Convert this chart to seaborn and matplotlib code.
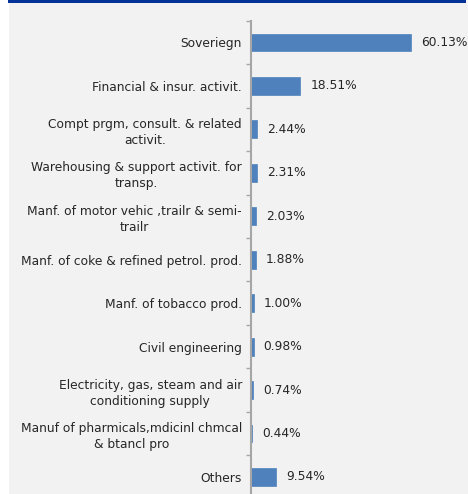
import numpy as np
import pandas as pd
import matplotlib
matplotlib.use("Agg")
import matplotlib.pyplot as plt
import seaborn as sns
from matplotlib.patches import Rectangle

categories = [
    "Soveriegn",
    "Financial & insur. activit.",
    "Compt prgm, consult. & related\nactivit.",
    "Warehousing & support activit. for\ntransp.",
    "Manf. of motor vehic ,trailr & semi-\ntrailr",
    "Manf. of coke & refined petrol. prod.",
    "Manf. of tobacco prod.",
    "Civil engineering",
    "Electricity, gas, steam and air\nconditioning supply",
    "Manuf of pharmicals,mdicinl chmcal\n& btancl pro",
    "Others",
]
values = [60.13, 18.51, 2.44, 2.31, 2.03, 1.88, 1.00, 0.98, 0.74, 0.44, 9.54]
value_labels = ["60.13%", "18.51%", "2.44%", "2.31%", "2.03%", "1.88%",
                "1.00%", "0.98%", "0.74%", "0.44%", "9.54%"]

df = pd.DataFrame({"category": categories, "value": values})

sns.set_theme(style="white")
plt.rcParams['font.family'] = ['DejaVu Sans']

W, H = 468, 494
fig = plt.figure(figsize=(W / 100, H / 100), dpi=100)
fig.patch.set_facecolor("white")

# grey panel and navy header band
fig.add_artist(Rectangle((9 / W, 0), (W - 9) / W, 1 - 3 / H, transform=fig.transFigure,
                         facecolor="#F2F2F2", edgecolor="none", zorder=0))
fig.add_artist(Rectangle((8 / W, 1 - 3 / H), (W - 10) / W, 3 / H, transform=fig.transFigure,
                         facecolor="#003399", edgecolor="none", zorder=0))

ax_left = 251 / W
ax_right = 464 / W
ax_top = 1 - 20.7 / H
ax_bottom = 1 - 498.7 / H
ax = fig.add_axes([ax_left, ax_bottom, ax_right - ax_left, ax_top - ax_bottom])
ax.set_facecolor("none")

sns.barplot(data=df, x="value", y="category", orient="h", color="#4F81BD",
            saturation=1, width=0.41, ax=ax, edgecolor="#4F81BD", linewidth=0.5)

ax.set_xlim(0, 80)
ax.set_ylim(len(categories) - 0.5, -0.5)
ax.set_xlabel("")
ax.set_ylabel("")
ax.set_xticks([])

for s in ["top", "right", "bottom"]:
    ax.spines[s].set_visible(False)
ax.spines["left"].set_color("#A6A6A6")
ax.spines["left"].set_linewidth(1.5)

ax.set_yticks(range(len(categories)))
ax.set_yticklabels(categories, fontsize=8.8, color="#262626",
                   multialignment="center", linespacing=1.3)
ax.tick_params(axis="y", which="major", left=False, length=0, pad=6.5)
ax.set_yticks(np.arange(-0.5, len(categories), 1), minor=True)
ax.tick_params(axis="y", which="minor", left=True, length=3.5, width=1,
               color="#A6A6A6", direction="out")

for i, (v, lab) in enumerate(zip(values, value_labels)):
    ax.annotate(lab, xy=(v, i), xytext=(10, 0), textcoords="offset pixels",
                ha="left", va="center", fontsize=8.8, color="#262626")

fig.savefig("out.png", dpi=100, facecolor="white")
